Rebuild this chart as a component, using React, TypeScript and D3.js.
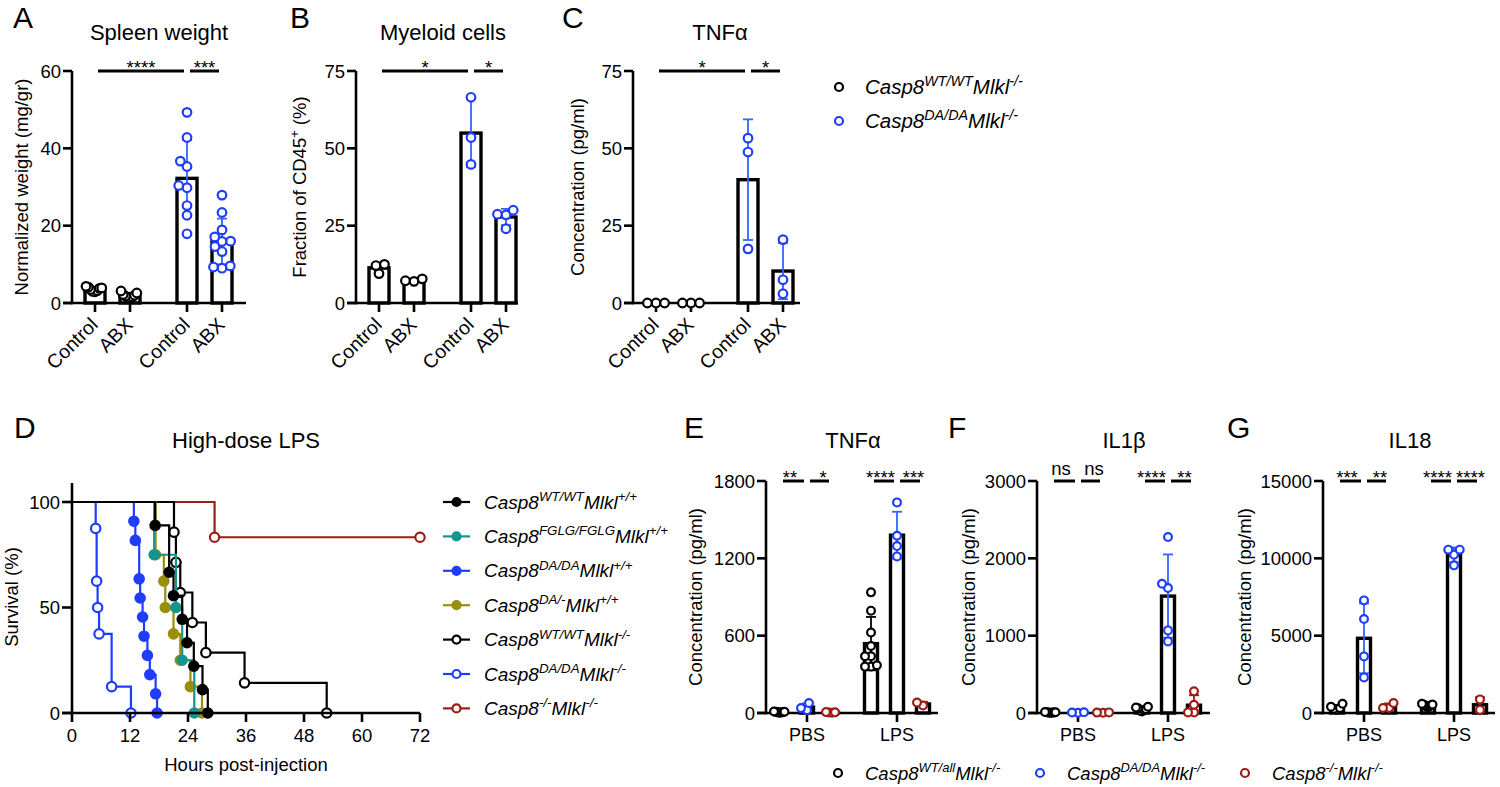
import React from "react";
import * as d3 from "d3";

const FONT = "'Liberation Sans', Arial, Helvetica, sans-serif";
const INK = "#000000";
const BLUE = "#1f3dff";
const BLUE_ERR = "#3564ff";
const TEAL = "#15958f";
const OLIVE = "#988f0c";
const RED = "#9c1d16";

// ---------- A: spleen weight (mg/gr)
const abxLabels = ["Control", "ABX", "Control", "ABX"];
const spleenWtCtrl = [3.2, 4.1, 3.8, 2.9, 4.3, 3.5, 3.0, 3.9];
const spleenWtAbx = [1.8, 2.6, 1.4, 2.2, 1.2, 3.1, 2.0, 1.6];
const spleenDaCtrl = [49.3, 42.8, 36.7, 35.3, 30.4, 29.8, 25.2, 22.7, 17.9];
const spleenDaAbx = [27.9, 23.4, 18.9, 17.1, 16.0, 15.9, 14.6, 13.3, 9.6, 9.3, 9.0];

// ---------- B: myeloid cells (% of CD45+)
const myeWtCtrl = [12.5, 12.1, 9.5];
const myeWtAbx = [7.0, 7.8, 7.2];
const myeDaCtrl = [66.5, 53.5, 44.8];
const myeDaAbx = [28.5, 24.0, 28.7, 30.0];

// ---------- C: TNFa (pg/ml)
const tnfWtCtrl = [0, 0, 0];
const tnfWtAbx = [0, 0, 0];
const tnfDaCtrl = [53.3, 48.8, 17.5];
const tnfDaAbx = [20.5, 7.5, 3.0];

// ---------- D: survival after high-dose LPS (hours, %)
const kmTimeWtWt = [17.2, 20.1, 21.0, 22.8, 23.8, 25.2, 27.0, 28.1];
const kmSurvWtWt = [88.9, 66.7, 55.6, 44.4, 33.3, 22.2, 11.1, 0];
const kmTimeFglg = [17.0, 21.5, 22.8, 25.3];
const kmSurvFglg = [75, 50, 25, 0];
const kmTimeDaDa = [12.8, 13.1, 13.9, 14.1, 14.6, 14.9, 15.6, 16.1, 17.3, 17.6];
const kmSurvDaDa = [90.9, 81.8, 63.6, 54.5, 45.5, 36.4, 27.3, 18.2, 9.1, 0];
const kmTimeDaHet = [17.3, 19.0, 19.3, 21.0, 22.4, 24.5, 26.9];
const kmSurvDaHet = [75, 62.5, 50, 37.5, 25, 12.5, 0];
const kmTimeWtKo = [21.1, 21.5, 22.4, 24.9, 27.7, 35.7, 52.7];
const kmSurvWtKo = [85.7, 71.4, 57.1, 42.9, 28.6, 14.3, 0];
const kmTimeDaKo = [4.9, 5.1, 5.3, 5.6, 8.2, 12.2];
const kmSurvDaKo = [87.5, 62.5, 50, 37.5, 12.5, 0];
const kmTimeKoKo = [29.5, 72];
const kmSurvKoKo = [83.3, 83.3];
const hourTicks = [0, 12, 24, 36, 48, 60, 72];

// ---------- E-G: serum cytokines (pg/ml)
const treatLabels = ["PBS", "LPS"];
const tnfPbsWt = [6, 9, 3, 12, 5, 8, 2, 10];
const tnfPbsDa = [78, 38, 22];
const tnfPbsKo = [4, 7, 2, 5];
const tnfLpsWt = [936, 794, 625, 520, 440, 440, 370, 360, 360];
const tnfLpsDa = [1634, 1375, 1295, 1215];
const tnfLpsKo = [58, 82];

const il1PbsWt = [8, 5, 12, 3, 10, 6, 4, 9];
const il1PbsDa = [6, 3, 9];
const il1PbsKo = [5, 8, 4];
const il1LpsWt = [80, 60, 50, 40, 30, 20, 70];
const il1LpsDa = [2276, 1672, 1616, 1068, 926];
const il1LpsKo = [280, 107, 8, 8];

const il18PbsWt = [600, 330, 220, 400, 280];
const il18PbsDa = [7280, 6078, 3660, 2302];
const il18PbsKo = [323, 647, 323];
const il18LpsWt = [600, 480, 420, 550, 380, 500, 450, 520];
const il18LpsDa = [10560, 10560, 10237, 9545];
const il18LpsKo = [880, 200];

// genotype labels: alternating normal / superscript parts
const genoWtWt = ["Casp8", "WT/WT", "Mlkl", "+/+"];
const genoFglg = ["Casp8", "FGLG/FGLG", "Mlkl", "+/+"];
const genoDaDa = ["Casp8", "DA/DA", "Mlkl", "+/+"];
const genoDaHet = ["Casp8", "DA/-", "Mlkl", "+/+"];
const genoWtKo = ["Casp8", "WT/WT", "Mlkl", "-/-"];
const genoDaKo = ["Casp8", "DA/DA", "Mlkl", "-/-"];
const genoKoKo = ["Casp8", "-/-", "Mlkl", "-/-"];
const genoWtAllKo = ["Casp8", "WT/all", "Mlkl", "-/-"];

type Group = { values: number[]; color: string };
type Sig = { a: number; b: number; label: string };

// simple beeswarm: offsets for each point so circles don't overlap
function swarm(values: number[], y: (v: number) => number, d: number, maxSpread: number) {
  const placed: { x: number; y: number }[] = [];
  const order = values.map((_, i) => i).sort((a, b) => values[a] - values[b]);
  order.forEach((i) => {
    const py = y(values[i]);
    const cands = [0];
    placed.forEach((p) => {
      const dy = Math.abs(p.y - py);
      if (dy < d) {
        const dx = Math.sqrt(d * d - dy * dy);
        cands.push(p.x + dx, p.x - dx);
      }
    });
    cands.sort((a, b) => Math.abs(a) - Math.abs(b) || a - b);
    const ok = cands.find((c) => placed.every((p) => (p.x - c) ** 2 + (p.y - py) ** 2 >= d * d - 0.05));
    placed.push({ x: ok ?? 0, y: py });
  });
  const m = d3.max(placed, (p) => Math.abs(p.x)) || 0;
  const k = m > maxSpread ? maxSpread / m : 1;
  return placed.map((p) => ({ x: p.x * k, y: p.y }));
}

// text with superscripts (even index = normal, odd = superscript)
function Rich({ parts, size }: { parts: string[]; size: number }) {
  const rise = size * 0.4;
  return (
    <>
      {parts.map((p, i) =>
        i % 2 === 0 ? (
          <tspan key={i} dy={i === 0 ? 0 : rise} fontSize={size}>
            {p}
          </tspan>
        ) : (
          <tspan key={i} dy={-rise} fontSize={size * 0.7}>
            {p}
          </tspan>
        )
      )}
    </>
  );
}

function Geno({ x, y, parts, size }: { x: number; y: number; parts: string[]; size: number }) {
  return (
    <text x={x} y={y} fontStyle="italic" fontFamily={FONT} fill={INK} style={{ whiteSpace: "pre" }}>
      <Rich parts={parts} size={size} />
    </text>
  );
}

type BarPanelProps = {
  x0: number;
  y0: number;
  yTop: number;
  max: number;
  ticks: number[];
  groups: Group[];
  offsets: number[];
  barW: number;
  axisEnd: number;
  sigs: Sig[];
  title: string;
  letter: string;
  letterX: number;
  letterY: number;
  titleY: number;
  yLabel: string[];
  yLabelX: number;
  xLabels: string[];
  xLabelAt: number[];
  rotated: boolean;
  r: number;
  d: number;
  spread: number;
  nudge: number;
};

function BarPanel(p: BarPanelProps) {
  const y = d3.scaleLinear().domain([0, p.max]).range([p.y0, p.yTop]);
  const cx = (i: number) => p.x0 + p.offsets[i];
  const midY = (p.y0 + p.yTop) / 2;
  return (
    <g fontFamily={FONT}>
      <text x={p.letterX} y={p.letterY} fontSize={30}>
        {p.letter}
      </text>
      <text x={p.x0 + 87} y={p.titleY} fontSize={22} textAnchor="middle">
        {p.title}
      </text>
      <text
        transform={`translate(${p.yLabelX},${midY}) rotate(-90)`}
        fontSize={18.5}
        textAnchor="middle"
        style={{ whiteSpace: "pre" }}
      >
        <Rich parts={p.yLabel} size={18.5} />
      </text>

      {/* bars */}
      {p.groups.map((g, i) => {
        const m = d3.mean(g.values) as number;
        return (
          <rect
            key={"b" + i}
            x={cx(i) - p.barW / 2}
            y={y(m)}
            width={p.barW}
            height={Math.max(0, p.y0 - y(m))}
            fill="#fff"
            stroke={INK}
            strokeWidth={3.4}
          />
        );
      })}

      {/* axes */}
      <line x1={p.x0} x2={p.x0} y1={p.y0 + 1.3} y2={p.yTop} stroke={INK} strokeWidth={2.6} />
      <line x1={p.x0 - 9} x2={p.axisEnd} y1={p.y0} y2={p.y0} stroke={INK} strokeWidth={2.6} />
      {p.ticks.map((t) => (
        <g key={"t" + t}>
          <line x1={p.x0 - 9} x2={p.x0} y1={y(t)} y2={y(t)} stroke={INK} strokeWidth={2.6} />
          <text x={p.x0 - 11} y={y(t) + 6.5} fontSize={18.5} textAnchor="end">
            {t}
          </text>
        </g>
      ))}
      {p.xLabelAt.map((gi, k) => (
        <g key={"x" + k}>
          <line x1={cx(gi)} x2={cx(gi)} y1={p.y0} y2={p.y0 + 9} stroke={INK} strokeWidth={2.6} />
          {p.rotated ? (
            <text
              transform={`translate(${cx(gi) + 4},${p.y0 + 23}) rotate(-45)`}
              fontSize={19.5}
              textAnchor="end"
            >
              {p.xLabels[k]}
            </text>
          ) : (
            <text x={cx(gi)} y={p.y0 + 28} fontSize={18} textAnchor="middle">
              {p.xLabels[k]}
            </text>
          )}
        </g>
      ))}

      {/* error bars (mean +/- SD) */}
      {p.groups.map((g, i) => {
        const m = d3.mean(g.values) as number;
        const sd = d3.deviation(g.values) || 0;
        const c = g.color === BLUE ? BLUE_ERR : g.color;
        const lo = y(Math.max(0, m - sd));
        const hi = y(m + sd);
        return (
          <g key={"e" + i} stroke={c} strokeWidth={1.8}>
            <line x1={cx(i)} x2={cx(i)} y1={lo} y2={hi} />
            <line x1={cx(i) - 5} x2={cx(i) + 5} y1={hi} y2={hi} />
            <line x1={cx(i) - 5} x2={cx(i) + 5} y1={lo} y2={lo} />
          </g>
        );
      })}

      {/* points */}
      {p.groups.map((g, i) =>
        swarm(g.values, y, p.d, p.spread).map((pt, j) => (
          <circle
            key={"p" + i + "-" + j}
            cx={cx(i) + pt.x}
            cy={pt.y}
            r={p.r}
            fill="#fff"
            stroke={g.color}
            strokeWidth={2.2}
          />
        ))
      )}

      {/* significance */}
      {p.sigs.map((s, k) => {
        const xa = cx(s.a) + 3;
        const xb = cx(s.b) - 3;
        const before = p.sigs.some((o) => o.a === s.b);
        const after = p.sigs.some((o) => o.b === s.a);
        const shift = before ? -p.nudge : after ? p.nudge : 0;
        return (
          <g key={"s" + k}>
            <line x1={xa} x2={xb} y1={p.yTop} y2={p.yTop} stroke={INK} strokeWidth={3} />
            <text
              x={(xa + xb) / 2 + shift}
              y={s.label === "ns" ? p.yTop - 6 : p.yTop + 2.5}
              fontSize={18.5}
              textAnchor="middle"
            >
              {s.label}
            </text>
          </g>
        );
      })}
    </g>
  );
}

const topOffsets = [23, 58, 115, 150];
const botOffsets = [14, 41, 66, 105, 131, 157];

function KmPanel() {
  const x = d3.scaleLinear().domain([0, 72]).range([72, 420]);
  const y = d3.scaleLinear().domain([0, 100]).range([713, 502]);
  const step = d3
    .line<[number, number]>()
    .x((d) => x(d[0]))
    .y((d) => y(d[1]))
    .curve(d3.curveStepAfter);
  const curves = [
    { t: kmTimeKoKo, s: kmSurvKoKo, color: RED, filled: false },
    { t: kmTimeDaKo, s: kmSurvDaKo, color: BLUE, filled: false },
    { t: kmTimeWtKo, s: kmSurvWtKo, color: INK, filled: false },
    { t: kmTimeDaHet, s: kmSurvDaHet, color: OLIVE, filled: true },
    { t: kmTimeDaDa, s: kmSurvDaDa, color: BLUE, filled: true },
    { t: kmTimeFglg, s: kmSurvFglg, color: TEAL, filled: true },
    { t: kmTimeWtWt, s: kmSurvWtWt, color: INK, filled: true },
  ];
  const legend = [
    { parts: genoWtWt, color: INK, filled: true },
    { parts: genoFglg, color: TEAL, filled: true },
    { parts: genoDaDa, color: BLUE, filled: true },
    { parts: genoDaHet, color: OLIVE, filled: true },
    { parts: genoWtKo, color: INK, filled: false },
    { parts: genoDaKo, color: BLUE, filled: false },
    { parts: genoKoKo, color: RED, filled: false },
  ];
  return (
    <g fontFamily={FONT}>
      <text x={14} y={438} fontSize={30}>
        D
      </text>
      <text x={246} y={448} fontSize={22} textAnchor="middle">
        High-dose LPS
      </text>
      <text transform={`translate(18,597) rotate(-90)`} fontSize={18.5} textAnchor="middle">
        Survival (%)
      </text>
      <text x={246} y={771} fontSize={18.5} textAnchor="middle">
        Hours post-injection
      </text>

      {curves.map((c, i) => {
        const pts: [number, number][] = [[0, 100], ...c.t.map((t, k) => [t, c.s[k]] as [number, number])];
        return (
          <g key={i}>
            <path d={step(pts) || ""} fill="none" stroke={c.color} strokeWidth={2.2} />
            {c.t.map((t, k) => (
              <circle
                key={k}
                cx={x(t)}
                cy={y(c.s[k])}
                r={4.7}
                fill={c.filled ? c.color : "#fff"}
                stroke={c.color}
                strokeWidth={2.2}
              />
            ))}
          </g>
        );
      })}

      <line x1={72} x2={72} y1={714} y2={y(109)} stroke={INK} strokeWidth={2.6} />
      <line x1={62} x2={x(72)} y1={713} y2={713} stroke={INK} strokeWidth={2.6} />
      {[0, 50, 100].map((t) => (
        <g key={t}>
          <line x1={62} x2={72} y1={y(t)} y2={y(t)} stroke={INK} strokeWidth={2.6} />
          <text x={60} y={y(t) + 6.5} fontSize={18.5} textAnchor="end">
            {t}
          </text>
        </g>
      ))}
      {hourTicks.map((t) => (
        <g key={t}>
          <line x1={x(t)} x2={x(t)} y1={713} y2={722} stroke={INK} strokeWidth={2.6} />
          <text x={x(t)} y={742} fontSize={18.5} textAnchor="middle">
            {t}
          </text>
        </g>
      ))}

      {legend.map((l, i) => {
        const ly = 502 + i * 34.4;
        return (
          <g key={i}>
            <line x1={443} x2={470} y1={ly} y2={ly} stroke={l.color} strokeWidth={2.2} />
            <circle cx={456.5} cy={ly} r={4} fill={l.filled ? l.color : "#fff"} stroke={l.color} strokeWidth={2.2} />
            <Geno x={484} y={ly + 6.5} parts={l.parts} size={19} />
          </g>
        );
      })}
    </g>
  );
}

export default function App() {
  const abxGroups = (a: number[], b: number[], c: number[], d: number[]): Group[] => [
    { values: a, color: INK },
    { values: b, color: INK },
    { values: c, color: BLUE },
    { values: d, color: BLUE },
  ];
  const cytGroups = (v: number[][]): Group[] =>
    v.map((vals, i) => ({ values: vals, color: [INK, BLUE, RED][i % 3] }));
  const topSigs = (l1: string, l2: string): Sig[] => [
    { a: 0, b: 2, label: l1 },
    { a: 2, b: 3, label: l2 },
  ];
  const botSigs = (l: string[]): Sig[] => [
    { a: 0, b: 1, label: l[0] },
    { a: 1, b: 2, label: l[1] },
    { a: 3, b: 4, label: l[2] },
    { a: 4, b: 5, label: l[3] },
  ];
  const common = {
    offsets: topOffsets,
    barW: 20,
    xLabels: abxLabels,
    xLabelAt: [0, 1, 2, 3],
    rotated: true,
    r: 4.3,
    d: 8.6,
    spread: 9,
    y0: 303,
    yTop: 71,
    letterY: 28,
    titleY: 40,
    nudge: 0,
  };
  const bottom = {
    offsets: botOffsets,
    barW: 13,
    xLabels: treatLabels,
    xLabelAt: [1, 4],
    rotated: false,
    r: 3.9,
    d: 7.6,
    spread: 6,
    y0: 713,
    yTop: 481,
    letterY: 438,
    titleY: 448,
    nudge: 3.5,
  };
  return (
    <div style={{ position: "absolute", left: 0, top: 0 }}>
      <svg width={1500} height={787} style={{ display: "block", background: "#fff" }}>
        <BarPanel
          {...common}
          x0={72}
          max={60}
          ticks={[0, 20, 40, 60]}
          axisEnd={246}
          groups={abxGroups(spleenWtCtrl, spleenWtAbx, spleenDaCtrl, spleenDaAbx)}
          sigs={topSigs("****", "***")}
          title="Spleen weight"
          letter="A"
          letterX={13}
          yLabel={["Normalized weight (mg/gr)"]}
          yLabelX={28}
        />
        <BarPanel
          {...common}
          x0={356}
          max={75}
          ticks={[0, 25, 50, 75]}
          axisEnd={518}
          groups={abxGroups(myeWtCtrl, myeWtAbx, myeDaCtrl, myeDaAbx)}
          sigs={topSigs("*", "*")}
          title="Myeloid cells"
          letter="B"
          letterX={290}
          yLabel={["Fraction of CD45", "+", " (%)"]}
          yLabelX={306}
        />
        <BarPanel
          {...common}
          x0={633}
          max={75}
          ticks={[0, 25, 50, 75]}
          axisEnd={800}
          groups={abxGroups(tnfWtCtrl, tnfWtAbx, tnfDaCtrl, tnfDaAbx)}
          sigs={topSigs("*", "*")}
          title="TNFα"
          letter="C"
          letterX={562}
          yLabel={["Concentration (pg/ml)"]}
          yLabelX={584}
        />

        <g fontFamily={FONT}>
          <circle cx={839} cy={87} r={4} fill="#fff" stroke={INK} strokeWidth={2.2} />
          <Geno x={865} y={94} parts={genoWtKo} size={20.5} />
          <circle cx={839} cy={121} r={4} fill="#fff" stroke={BLUE} strokeWidth={2.2} />
          <Geno x={865} y={128} parts={genoDaKo} size={20.5} />
        </g>

        <KmPanel />

        <BarPanel
          {...bottom}
          x0={766}
          max={1800}
          ticks={[0, 600, 1200, 1800]}
          axisEnd={938}
          groups={cytGroups([tnfPbsWt, tnfPbsDa, tnfPbsKo, tnfLpsWt, tnfLpsDa, tnfLpsKo])}
          sigs={botSigs(["**", "*", "****", "***"])}
          title="TNFα"
          letter="E"
          letterX={684}
          yLabel={["Concentration (pg/ml)"]}
          yLabelX={702}
        />
        <BarPanel
          {...bottom}
          x0={1037}
          max={3000}
          ticks={[0, 1000, 2000, 3000]}
          axisEnd={1210}
          groups={cytGroups([il1PbsWt, il1PbsDa, il1PbsKo, il1LpsWt, il1LpsDa, il1LpsKo])}
          sigs={botSigs(["ns", "ns", "****", "**"])}
          title="IL1β"
          letter="F"
          letterX={948}
          yLabel={["Concentration (pg/ml)"]}
          yLabelX={975}
        />
        <BarPanel
          {...bottom}
          x0={1323}
          max={15000}
          ticks={[0, 5000, 10000, 15000]}
          axisEnd={1495}
          groups={cytGroups([il18PbsWt, il18PbsDa, il18PbsKo, il18LpsWt, il18LpsDa, il18LpsKo])}
          sigs={botSigs(["***", "**", "****", "****"])}
          title="IL18"
          letter="G"
          letterX={1227}
          yLabel={["Concentration (pg/ml)"]}
          yLabelX={1251}
        />

        <g fontFamily={FONT}>
          <circle cx={838} cy={773} r={4} fill="#fff" stroke={INK} strokeWidth={2.2} />
          <Geno x={865} y={779.5} parts={genoWtAllKo} size={18.5} />
          <circle cx={1040} cy={773} r={4} fill="#fff" stroke={BLUE} strokeWidth={2.2} />
          <Geno x={1067} y={779.5} parts={genoDaKo} size={18.5} />
          <circle cx={1245} cy={773} r={4} fill="#fff" stroke={RED} strokeWidth={2.2} />
          <Geno x={1272} y={779.5} parts={genoKoKo} size={18.5} />
        </g>
      </svg>
    </div>
  );
}
